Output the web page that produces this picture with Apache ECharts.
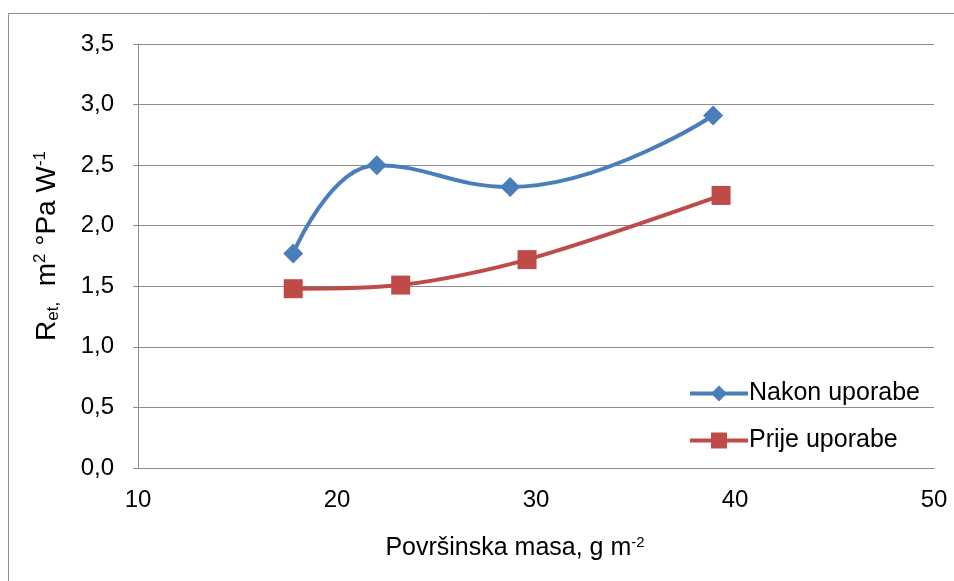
<!DOCTYPE html>
<html>
<head>
<meta charset="utf-8">
<script src="https://cdn.jsdelivr.net/npm/echarts@6/dist/echarts.min.js"></script>
<style>
  html, body { margin: 0; padding: 0; background: #fff; }
  #main { width: 954px; height: 581px; }
</style>
</head>
<body>
<div id="main"></div>
<script>
// values
var seriesNames = ['Nakon uporabe', 'Prije uporabe'];
var nakonX = [17.8, 22.0, 28.7, 38.9];
var nakonY = [1.77, 2.50, 2.32, 2.91];
var prijeX = [17.8, 23.2, 29.55, 39.3];
var prijeY = [1.48, 1.51, 1.72, 2.25];

function pairs(xs, ys) {
    return xs.map(function (x, i) { return [x, ys[i]]; });
}

var myChart = echarts.init(document.getElementById('main'));

var font = 'Liberation Sans, Arial, sans-serif';

var option = {
    animation: false,
    backgroundColor: '#fff',
    graphic: [{
        type: 'rect',
        shape: { x: 8.5, y: 13.5, width: 960, height: 600 },
        style: { fill: 'none', stroke: '#8c8c8c', lineWidth: 1 },
        silent: true
    }],
    grid: {
        left: 138,
        right: 20,
        top: 44,
        bottom: 113
    },
    legend: {
        orient: 'vertical',
        left: 683,
        top: 376,
        itemWidth: 58,
        itemHeight: 20,
        itemGap: 22,
        data: seriesNames,
        lineStyle: { width: 4 },
        textStyle: { fontFamily: font, fontSize: 25, color: '#000', padding: [0, 0, 0, -4] }
    },
    xAxis: {
        type: 'value',
        min: 10,
        max: 50,
        interval: 10,
        name: '{n|Površinska masa, g m}{s|-2}',
        nameLocation: 'middle',
        nameGap: 67,
        nameTextStyle: {
            padding: [0, 42, 0, 0],
            rich: {
                n: { fontFamily: font, fontSize: 25, color: '#000' },
                s: { fontFamily: font, fontSize: 15, color: '#000', padding: [0, 0, 11, 0] }
            }
        },
        axisLine: { show: true, lineStyle: { color: '#8c8c8c', width: 1 } },
        axisTick: { show: false },
        splitLine: { show: false },
        axisLabel: { fontFamily: font, fontSize: 24, color: '#000', margin: 20 }
    },
    yAxis: {
        type: 'value',
        min: 0,
        max: 3.5,
        interval: 0.5,
        name: '{n|R}{sub|et,}{n|  m}{s|2}{n| °Pa W}{s|-1}',
        nameLocation: 'middle',
        nameGap: 76,
        nameRotate: 90,
        nameTextStyle: {
            padding: [0, 0, 0, 20],
            rich: {
                n: { fontFamily: font, fontSize: 28, color: '#000' },
                s: { fontFamily: font, fontSize: 17, color: '#000', padding: [0, 0, 13, 0] },
                sub: { fontFamily: font, fontSize: 17, color: '#000', padding: [13, 0, 0, 0] }
            }
        },
        axisLine: { show: true, lineStyle: { color: '#8c8c8c', width: 1 } },
        axisTick: { show: true, length: 5, lineStyle: { color: '#8c8c8c' } },
        splitLine: { show: true, lineStyle: { color: '#8c8c8c', width: 1 } },
        axisLabel: {
            fontFamily: font, fontSize: 24, color: '#000', margin: 24,
            formatter: function (v) { return v.toFixed(1).replace('.', ','); }
        }
    },
    series: [{
        name: seriesNames[0],
        type: 'line',
        smooth: 0.45,
        data: pairs(nakonX, nakonY),
        symbol: 'diamond',
        symbolSize: 20,
        lineStyle: { color: '#4a7ebb', width: 4 },
        itemStyle: { color: '#4a7ebb' }
    }, {
        name: seriesNames[1],
        type: 'line',
        smooth: 0.3,
        data: pairs(prijeX, prijeY),
        symbol: 'rect',
        symbolSize: 19,
        lineStyle: { color: '#be4b48', width: 4 },
        itemStyle: { color: '#be4b48' }
    }]
};

myChart.setOption(option);
</script>
</body>
</html>
